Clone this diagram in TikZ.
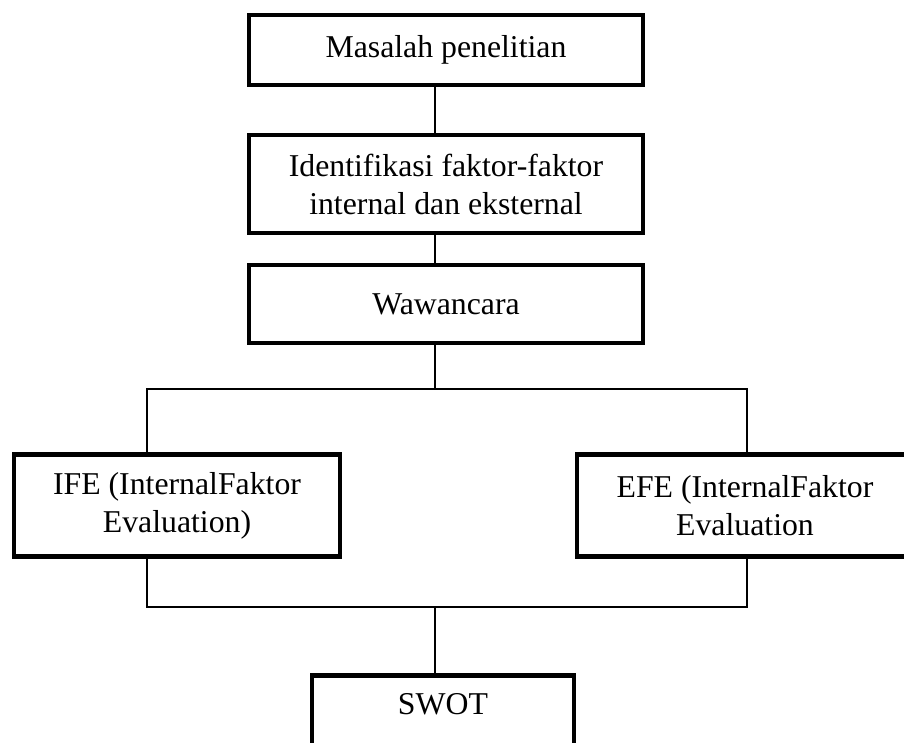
\documentclass[tikz,border=0pt]{standalone}
\usepackage{fontspec}
\setmainfont{Liberation Serif}
\tikzset{
  stepbox/.style={draw, line width=3.2pt, align=center, inner sep=0pt,
    font=\fontsize{22.6}{27}\selectfont},
  link/.style={line width=1pt}
}
\begin{document}
\begin{tikzpicture}
  \useasboundingbox (0,0) rectangle (22.6,18.55);
  \clip (0,0) rectangle (22.6,18.55);
  % boxes
  \node [stepbox, minimum width=9.84cm, minimum height=1.74cm] (masalah) at (11.15,17.3) {Masalah penelitian};
  \node [stepbox, minimum width=9.84cm, minimum height=2.44cm] (identifikasi) at (11.15,13.95) {Identifikasi faktor-faktor\\internal dan eksternal};
  \node [stepbox, minimum width=9.84cm, minimum height=1.94cm] (wawancara) at (11.15,10.95) {Wawancara};
  \node [stepbox, minimum width=8.14cm, minimum height=2.56cm] (ife) at (4.425,5.9125) {IFE (InternalFaktor\\Evaluation)};
  \node [stepbox, minimum width=8.4cm, minimum height=2.56cm] (efe) at (18.625,5.9125) {EFE (InternalFaktor\\Evaluation};
  \node [stepbox, minimum width=6.55cm, anchor=north, text height=0.99cm, text depth=1.6cm] (swot) at (11.075,1.725) {SWOT};
  % connectors
  \coordinate (trunk) at (10.875,0);
  \coordinate (splitL) at (3.675,8.825);
  \coordinate (splitR) at (18.675,8.825);
  \coordinate (joinL) at (3.675,3.375);
  \coordinate (joinR) at (18.675,3.375);
  \draw [link] (masalah.south -| trunk) -- (identifikasi.north -| trunk);
  \draw [link] (identifikasi.south -| trunk) -- (wawancara.north -| trunk);
  \draw [link] (wawancara.south -| trunk) -- (splitL -| trunk);
  \draw [link] (ife.north -| splitL) -- (splitL) -- (splitR) -- (efe.north -| splitR);
  \draw [link] (ife.south -| joinL) -- (joinL) -- (joinR) -- (efe.south -| joinR);
  \draw [link] (joinL -| trunk) -- (swot.north -| trunk);
\end{tikzpicture}
\end{document}
